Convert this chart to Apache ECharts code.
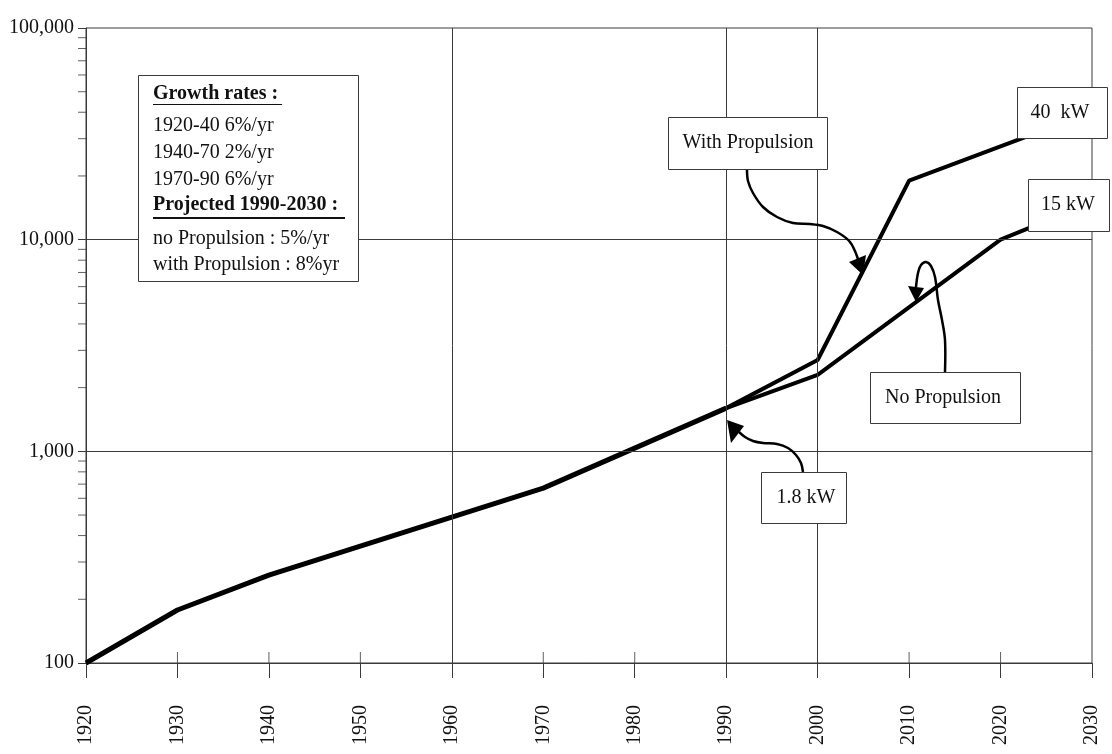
<!DOCTYPE html>
<html>
<head>
<meta charset="utf-8">
<title>Growth rates</title>
<script src="https://cdn.jsdelivr.net/npm/echarts@6/dist/echarts.min.js"></script>
<style>
  html, body { margin: 0; padding: 0; background: #fff; }
  #chart { width: 1112px; height: 754px; }
</style>
</head>
<body>
<div id="chart"></div>
<script>
// history 1920-1990
var historyYears = [1920, 1930, 1940, 1970, 1990];
var historyValues = [100, 178, 260, 670, 1600];

// projection with propulsion
var withPropYears = [1990, 2000, 2010, 2030];
var withPropValues = [1600, 2700, 19000, 40000];

// projection without propulsion
var noPropYears = [1990, 2000, 2020, 2030];
var noPropValues = [1600, 2300, 10000, 15000];

// axis stuff
var yMinorTicks = [200, 300, 400, 500, 600, 700, 800, 900,
  2000, 3000, 4000, 5000, 6000, 7000, 8000, 9000,
  20000, 30000, 40000, 50000, 60000, 70000, 80000, 90000];
var upTickYears = [1930, 1940, 1950, 1970, 1980, 2010, 2020];
var gridYears = [1960, 1990, 2000];
var gridValues = [1000, 10000];

var serif = '"Liberation Serif", "Times New Roman", serif';
var lineCol = '#3a3a3a';

function zip(xs, ys) {
  return xs.map(function (x, i) { return [x, ys[i]]; });
}

function fmt(v) {
  return String(Math.round(v)).replace(/\B(?=(\d{3})+(?!\d))/g, ',');
}

function label(x, y, str, opts) {
  opts = opts || {};
  return {
    type: 'text', x: x, y: y, z: 102,
    style: {
      text: str,
      font: (opts.bold ? 'bold ' : '') + '20px ' + serif,
      fill: '#111',
      align: opts.align || 'center', textAlign: opts.align || 'center',
      verticalAlign: 'middle', textVerticalAlign: 'middle'
    }
  };
}

function box(x, y, w, h) {
  return {
    type: 'rect', z: 100,
    shape: { x: x + 0.5, y: y + 0.5, width: w, height: h },
    style: { fill: '#fff', stroke: lineCol, lineWidth: 1 }
  };
}

function arrow(points, head) {
  return [
    { type: 'polyline', z: 99, shape: { points: points, smooth: 0.35 },
      style: { stroke: '#000', lineWidth: 2.5, fill: null } },
    { type: 'polygon', z: 99, shape: { points: head }, style: { fill: '#000' } }
  ];
}

var elements = [].concat(
  // growth rates box
  box(138, 75, 220, 206),
  label(153, 94, 'Growth rates :', { bold: true, align: 'left' }),
  { type: 'line', z: 101, shape: { x1: 153, y1: 104.5, x2: 282, y2: 104.5 }, style: { stroke: '#111', lineWidth: 1 } },
  label(153, 126, '1920-40 6%/yr', { align: 'left' }),
  label(153, 153, '1940-70 2%/yr', { align: 'left' }),
  label(153, 180, '1970-90 6%/yr', { align: 'left' }),
  label(153, 205, 'Projected 1990-2030 :', { bold: true, align: 'left' }),
  { type: 'line', z: 101, shape: { x1: 153, y1: 218, x2: 345, y2: 218 }, style: { stroke: '#111', lineWidth: 2 } },
  label(153, 239, 'no Propulsion : 5%/yr', { align: 'left' }),
  label(153, 265, 'with Propulsion : 8%yr', { align: 'left' }),

  // callouts
  box(668, 117, 159, 52), label(748, 143, 'With Propulsion'),
  box(1017, 87, 90, 51), label(1060, 113, '40  kW'),
  box(1028, 179, 81, 52), label(1068, 205, '15 kW'),
  box(870, 372, 150, 51), label(943, 398, 'No Propulsion'),
  box(761, 472, 85, 51), label(806, 498, '1.8 kW'),

  arrow([[747, 169], [748, 181], [753, 193], [763, 207], [777, 217], [793, 223], [810, 224],
         [823, 226], [837, 232], [850, 242], [858, 259]],
        [[849, 262], [866, 255], [863, 275]]),
  arrow([[945, 372], [945, 340], [942, 320], [938, 300], [935, 277], [931, 266], [926, 262],
         [921, 265], [918, 273], [916, 287]],
        [[908, 286], [924, 288], [916, 302]]),
  arrow([[803, 472], [801, 463], [796, 455], [788, 448], [777, 444], [763, 443], [753, 441],
         [745, 437], [739, 432]],
        [[731, 443], [744, 426], [727, 420]])
);

var chart = echarts.init(document.getElementById('chart'));

chart.setOption({
  animation: false,
  backgroundColor: '#fff',
  textStyle: { fontFamily: serif },
  grid: {
    left: 86, right: 20, top: 28, bottom: 91,
    show: true, borderColor: lineCol, borderWidth: 1
  },
  xAxis: {
    type: 'value',
    min: 1920, max: 2030, interval: 10,
    axisLine: { show: true, lineStyle: { color: lineCol, width: 1 } },
    axisTick: { show: true, length: 15, lineStyle: { color: lineCol } },
    axisLabel: {
      rotate: 90, margin: 42, fontSize: 20, color: '#111', fontFamily: serif,
      formatter: function (v) { return String(v); }
    },
    splitLine: { show: false }
  },
  yAxis: {
    type: 'log', logBase: 10,
    min: 100, max: 100000,
    axisLine: { show: true, lineStyle: { color: lineCol, width: 1 } },
    axisTick: { show: true, length: 8, lineStyle: { color: lineCol } },
    axisLabel: {
      margin: 12, fontSize: 20, color: '#111', fontFamily: serif,
      padding: [0, 0, 14, 0],
      formatter: fmt
    },
    splitLine: { show: false }
  },
  series: [
    {
      // y minor ticks (log 2..9)
      type: 'scatter', silent: true, clip: false, z: 1,
      symbol: 'rect', symbolSize: [8, 1], symbolOffset: [-4, 0],
      itemStyle: { color: lineCol },
      data: yMinorTicks.map(function (v) { return [1920, v]; })
    },
    {
      // x ticks above the axis
      type: 'scatter', silent: true, clip: false, z: 1,
      symbol: 'rect', symbolSize: [1, 11], symbolOffset: [0, -5.5],
      itemStyle: { color: lineCol },
      data: upTickYears.map(function (y) { return [y, 100]; })
    },
    {
      name: 'history', type: 'line', symbol: 'none', z: 3,
      lineStyle: { color: '#000', width: 5 },
      data: zip(historyYears, historyValues),
      markLine: {
        silent: true, symbol: 'none', label: { show: false },
        lineStyle: { color: lineCol, width: 1, type: 'solid' },
        data: gridYears.map(function (y) { return { xAxis: y }; })
          .concat(gridValues.map(function (v) { return { yAxis: v }; }))
      }
    },
    {
      name: 'With Propulsion', type: 'line', symbol: 'none', z: 3,
      lineStyle: { color: '#000', width: 4 },
      data: zip(withPropYears, withPropValues)
    },
    {
      name: 'No Propulsion', type: 'line', symbol: 'none', z: 3,
      lineStyle: { color: '#000', width: 4 },
      data: zip(noPropYears, noPropValues)
    }
  ],
  graphic: { elements: elements }
});
</script>
</body>
</html>
